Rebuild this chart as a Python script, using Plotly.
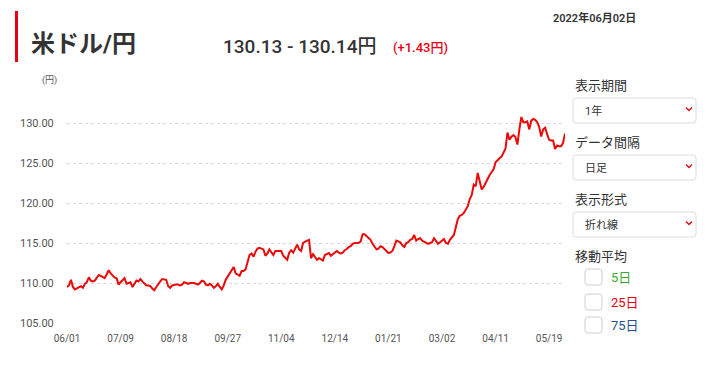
import plotly.graph_objects as go

# ---- data ----
tick_labels = ["06/01", "07/09", "08/18", "09/27", "11/04", "12/14", "01/21", "03/02", "04/11", "05/19"]
tick_step = 27
y_ticks = [105, 110, 115, 120, 125, 130]

rates = [
    109.5, 109.7, 110.4, 109.5, 109.2, 109.3, 109.5, 109.6, 109.4, 109.9,
    110.1, 110.7, 110.3, 110.2, 110.3, 110.7, 111.0, 110.9, 110.7, 110.6,
    111.1, 111.6, 111.2, 110.9, 110.7, 110.6, 109.8, 110.1, 110.4, 110.6,
    109.9, 110.0, 110.1, 109.5, 109.9, 110.3, 110.2, 110.5, 110.2, 109.9,
    109.7, 109.7, 109.6, 109.3, 109.1, 109.5, 109.9, 110.2, 110.5, 110.4,
    110.4, 109.6, 109.4, 109.7, 109.8, 109.8, 109.8, 109.7, 109.8, 110.1,
    110.0, 109.9, 110.0, 110.0, 110.0, 109.9, 109.8, 110.0, 110.3, 110.2,
    109.8, 109.7, 109.9, 109.7, 109.4, 109.6, 109.9, 109.5, 109.2, 109.7,
    110.4, 110.8, 111.2, 111.6, 112.0, 111.2, 111.0, 110.9, 111.5, 111.5,
    111.7, 112.6, 113.5, 113.7, 113.3, 113.9, 114.3, 114.4, 114.3, 114.2,
    113.4, 113.7, 114.2, 113.8, 113.5, 114.0, 114.0, 114.0, 114.0, 113.4,
    113.2, 112.9, 113.8, 114.1, 113.8, 114.3, 114.8, 114.2, 114.0, 115.0,
    115.2, 115.3, 115.4, 113.1, 113.6, 113.3, 112.9, 113.1, 112.9, 112.8,
    113.5, 113.6, 113.75, 113.4, 113.6, 113.8, 114.0, 113.8, 113.7, 113.8,
    114.1, 114.25, 114.5, 114.6, 114.9, 115.0, 115.0, 115.0, 115.2, 116.1,
    116.1, 115.9, 115.6, 115.4, 114.9, 114.6, 114.2, 114.3, 114.6, 114.5,
    114.25, 114.0, 113.75, 113.8, 114.0, 114.6, 115.3, 115.2, 115.1, 114.7,
    114.5, 115.0, 115.1, 115.4, 115.5, 116.0, 115.3, 115.5, 115.6, 115.3,
    115.2, 115.0, 114.9, 115.0, 115.1, 115.6, 115.3, 114.9, 115.1, 115.3,
    115.5, 115.0, 114.9, 115.4, 115.7, 116.0, 117.0, 118.0, 118.4, 118.5,
    118.75, 119.2, 119.6, 120.5, 121.0, 122.3, 122.1, 123.75, 122.6, 121.7,
    122.0, 122.6, 123.0, 123.5, 123.8, 124.2, 125.1, 125.4, 125.6, 125.8,
    126.4, 126.8, 128.8, 127.9, 128.3, 128.5, 128.25, 127.3, 129.2, 130.75,
    130.1, 130.1, 130.2, 129.2, 130.3, 130.5, 130.4, 130.1, 129.5, 128.3,
    129.2, 129.4, 128.6, 127.9, 127.8, 127.8, 126.75, 127.2, 127.1, 127.1,
    127.5, 128.7,
]

# ---- geometry helpers (pixel -> paper) ----
W, H = 714, 366
L, R, T, B = 67, 565, 83, 323


def px(x):
    return (x - L) / (R - L)


def py(y):
    return (B - y) / (B - T)


x_idx = list(range(len(rates)))

fig = go.Figure()
fig.add_trace(go.Scatter(
    x=x_idx, y=rates, mode="lines",
    line=dict(color="#ea0a0a", width=2),
    hoverinfo="skip", showlegend=False,
))

JP = "Roboto, 'Noto Sans CJK JP', sans-serif"

fig.update_layout(
    width=W, height=H,
    margin=dict(l=L, r=W - R, t=T, b=H - B),
    paper_bgcolor="white", plot_bgcolor="white",
    font=dict(family=JP, color="#444"),
    xaxis=dict(
        range=[0, len(rates) - 1],
        tickvals=[i * tick_step for i in range(len(tick_labels))],
        ticktext=tick_labels,
        showgrid=False, zeroline=False, showline=False,
        ticks="outside", ticklen=6, tickcolor="rgba(0,0,0,0)",
        tickfont=dict(size=10, color="#555"),
    ),
    yaxis=dict(
        range=[105, 135],
        tickvals=y_ticks + [135],
        ticktext=[f"{v:.2f}" for v in y_ticks] + [""],
        showgrid=True, gridcolor="#d9d9d9", griddash="dot", gridwidth=1,
        zeroline=False, showline=False,
        ticks="outside", ticklen=10, tickcolor="rgba(0,0,0,0)",
        tickfont=dict(size=11, color="#555"),
    ),
)

ann = []
shapes = []

# header
shapes.append(dict(type="rect", xref="paper", yref="paper",
                   x0=px(15), x1=px(18), y0=py(62), y1=py(11),
                   fillcolor="#e60012", line=dict(width=0)))
ann.append(dict(text="<b>米ドル/円</b>", x=px(29), y=py(44), xanchor="left", yanchor="middle",
                font=dict(size=24, color="#333", family=JP)))
ann.append(dict(text="130.13 - 130.14円", x=px(221), y=py(46), xanchor="left", yanchor="middle",
                font=dict(size=19, color="#333", family=JP, weight=500)))
ann.append(dict(text="(+1.43円)", x=px(391), y=py(47.5), xanchor="left", yanchor="middle",
                font=dict(size=13, color="#e60012", family=JP, weight=500)))
ann.append(dict(text="2022年06月02日", x=px(551), y=py(17.5), xanchor="left", yanchor="middle",
                font=dict(size=11, color="#333", family=JP, weight=600)))
ann.append(dict(text="(円)", x=px(59), y=py(80), xanchor="right", yanchor="middle",
                font=dict(size=9, color="#555", family=JP)))


def rounded_rect(x0, y0, x1, y1, r, line_color="#dcdcdc"):
    # pixel coords -> paper path with rounded corners
    rx = r / (R - L)
    ry = r / (B - T)
    a, b, c, d = px(x0), py(y1), px(x1), py(y0)  # a,b bottom-left ; c,d top-right
    path = (f"M {a+rx},{b} L {c-rx},{b} Q {c},{b} {c},{b+ry} L {c},{d-ry} Q {c},{d} {c-rx},{d} "
            f"L {a+rx},{d} Q {a},{d} {a},{d-ry} L {a},{b+ry} Q {a},{b} {a+rx},{b} Z")
    return dict(type="path", xref="paper", yref="paper", path=path,
                line=dict(color=line_color, width=1), fillcolor="white")


panel_labels = ["表示期間", "データ間隔", "表示形式"]
panel_values = ["1年", "日足", "折れ線"]
label_y = [85, 142, 199]
box_top = [98, 155, 212]
for lab, val, ly, bt in zip(panel_labels, panel_values, label_y, box_top):
    ann.append(dict(text=lab, x=px(573), y=py(ly), xanchor="left", yanchor="middle",
                    font=dict(size=13, color="#333", family=JP)))
    shapes.append(rounded_rect(573, bt, 696, bt + 25, 3))
    ann.append(dict(text=val, x=px(583), y=py(bt + 13), xanchor="left", yanchor="middle",
                    font=dict(size=11, color="#333", family=JP)))
    cy = bt + 11
    shapes.append(dict(type="path", xref="paper", yref="paper",
                       path=f"M {px(686)},{py(cy-1.5)} L {px(689)},{py(cy+1.5)} L {px(692)},{py(cy-1.5)}",
                       line=dict(color="#e60012", width=1.3)))

ann.append(dict(text="移動平均", x=px(573), y=py(256), xanchor="left", yanchor="middle",
                font=dict(size=13, color="#333", family=JP)))
ma_labels = ["5日", "25日", "75日"]
ma_colors = ["#3aaa35", "#e60012", "#1d4f91"]
ma_y = [277, 302, 325]
for lab, col, cy in zip(ma_labels, ma_colors, ma_y):
    shapes.append(rounded_rect(585, cy - 8, 602, cy + 8, 3, line_color="#cfcfcf"))
    ann.append(dict(text=lab, x=px(609), y=py(cy), xanchor="left", yanchor="middle",
                    font=dict(size=13, color=col, family=JP)))

for a in ann:
    a.update(xref="paper", yref="paper", showarrow=False)
fig.update_layout(annotations=ann, shapes=shapes)

fig.write_html("out.html", config={"displayModeBar": False},
               post_script="document.body.style.margin='0';")
